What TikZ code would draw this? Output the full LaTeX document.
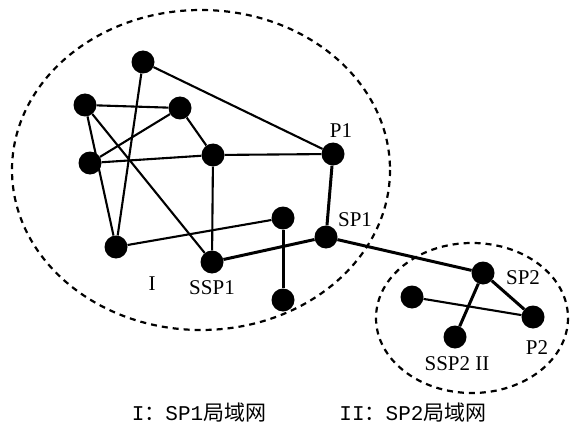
\documentclass[tikz,border=0pt]{standalone}
\usepackage{fontspec}
\setmainfont{Liberation Serif}
\setmonofont{Liberation Mono}
\newfontfamily\cjk{Noto Sans CJK SC}
\begin{document}
\begin{tikzpicture}[x=1pt,y=-1pt,
  dot/.style={circle,fill=black,inner sep=0pt,minimum size=23pt},
  link/.style={line width=2.1pt},
  heavy/.style={line width=3pt},
  region/.style={line width=2.2pt,dash pattern=on 6pt off 5pt},
  lbl/.style={font=\fontsize{21}{21}\selectfont},
  captext/.style={font=\fontsize{21}{21}\selectfont\ttfamily}]
\useasboundingbox (0,0) rectangle (570,433);
\draw[region] (201,170) ellipse [x radius=189, y radius=160];
\draw[region] (472,318) ellipse [x radius=96, y radius=75];
\node[dot] (a) at (143,62) {};
\node[dot] (b) at (85,105) {};
\node[dot] (c) at (180,108) {};
\node[dot] (d) at (90,163) {};
\node[dot] (e) at (213,155) {};
\node[dot] (p1) at (333,154) {};
\node[dot] (f) at (283,218) {};
\node[dot] (sp1) at (326,237) {};
\node[dot] (g) at (116,247) {};
\node[dot] (ssp1) at (212,262) {};
\node[dot] (h) at (283,300) {};
\node[dot] (sp2) at (483,273) {};
\node[dot] (k) at (412,297) {};
\node[dot] (p2) at (533,317) {};
\node[dot] (ssp2) at (455,337) {};
\draw[link] (a) -- (p1);
\draw[link] (a) -- (g);
\draw[link] (b) -- (c);
\draw[link] (b) -- (g);
\draw[link] (b) -- (ssp1);
\draw[link] (c) -- (d);
\draw[link] (c) -- (e);
\draw[link] (d) -- (e);
\draw[link] (e) -- (p1);
\draw[link] (e) -- (ssp1);
\draw[heavy] (p1) -- (sp1);
\draw[link] (g) -- (f);
\draw[heavy] (f) -- (h);
\draw[heavy] (ssp1) -- (sp1);
\draw[heavy] (sp1) -- (sp2);
\draw[heavy] (sp2) -- (ssp2);
\draw[heavy] (sp2) -- (p2);
\draw[link] (k) -- (p2);
\node[lbl] (lp1) at (341,131) {P1};
\node[lbl] (lsp1) at (355,220) {SP1};
\node[lbl] (li) at (152,284) {I};
\node[lbl] (lssp1) at (212,288) {SSP1};
\node[lbl] (lsp2) at (523,278) {SP2};
\node[lbl] (lp2) at (537,348) {P2};
\node[lbl] (lssp2) at (457,364) {SSP2\ II};
\node[captext] (c1) at (199,413) {I{\cjk ：}SP1{\cjk 局域网}};
\node[captext] (c2) at (413,413) {II{\cjk ：}SP2{\cjk 局域网}};
\end{tikzpicture}
\end{document}
